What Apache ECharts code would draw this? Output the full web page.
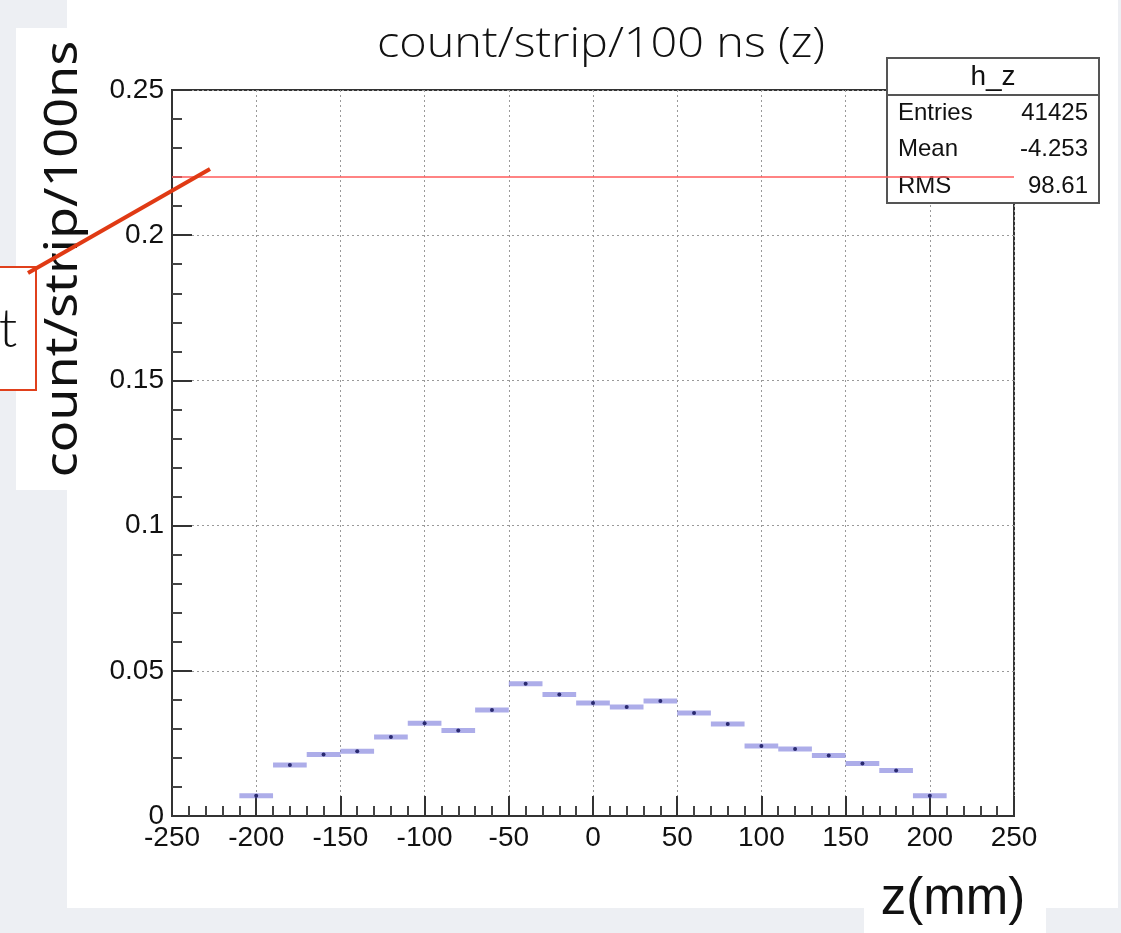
<!DOCTYPE html>
<html>
<head>
<meta charset="utf-8">
<script src="https://cdn.jsdelivr.net/npm/echarts@6/dist/echarts.min.js"></script>
<style>
html,body{margin:0;padding:0;background:#edeff3;}
#c{width:1121px;height:933px;}
</style>
</head>
<body>
<div id="c"></div>
<script>
// ---- data ----
const binCenters = [-200,-180,-160,-140,-120,-100,-80,-60,-40,-20,0,20,40,60,80,100,120,140,160,180,200];
const binValues  = [0.0070,0.0176,0.0212,0.0223,0.0272,0.0319,0.0294,0.0365,0.0455,0.0418,0.0389,0.0375,0.0396,0.0355,0.0317,0.0241,0.0231,0.0208,0.0181,0.0157,0.0070];
const binWidth = 20;
const refLineValue = 0.22;
const xRange = [-250, 250];
const yRange = [0, 0.25];
const titleText = 'count/strip/100 ns (z)';
const yTitle = 'count/strip/100ns';
const xTitle = 'z(mm)';
const statsName = 'h_z';
const statsLabels = ['Entries','Mean','RMS'];
const statsValues = ['41425','-4.253','98.61'];

const seriesData = binCenters.map((c,i)=>[c, binValues[i]]);

const chart = echarts.init(document.getElementById('c'), null, {renderer:'canvas'});
const labelFont = {fontFamily:'"Liberation Sans", Arial, sans-serif', fontSize:28, color:'#111'};

chart.setOption({
  backgroundColor:'#edeff3',
  animation:false,
  graphic:[
    {type:'rect', z:-100, shape:{x:67,y:0,width:1051,height:908}, style:{fill:'#ffffff'}},
    {type:'rect', z:-100, shape:{x:16,y:28,width:60,height:462}, style:{fill:'#ffffff'}},
    {type:'rect', z:-100, shape:{x:864,y:868,width:182,height:65}, style:{fill:'#ffffff'}},
    // stats box
    {type:'rect', z:1, shape:{x:887,y:58,width:212,height:145}, style:{fill:'#ffffff', stroke:'#555', lineWidth:2}},
    {type:'line', z:1, shape:{x1:887,y1:95,x2:1099,y2:95}, style:{stroke:'#555', lineWidth:2}},
    {type:'text', z:1, style:{text:statsName, x:993, y:77, font:'28px "Liberation Sans", Arial', fill:'#111', textAlign:'center', textVerticalAlign:'middle'}},
    ...statsLabels.map((l,i)=>({type:'text', z:1, style:{text:l, x:898, y:113+i*36.5, font:'24px "Liberation Sans", Arial', fill:'#111', textVerticalAlign:'middle', textAlign:'left'}})),
    ...statsValues.map((v,i)=>({type:'text', z:1, style:{text:v, x:1088, y:113+i*36.5, font:'24px "Liberation Sans", Arial', fill:'#111', textVerticalAlign:'middle', textAlign:'right'}})),
    // title
    {type:'text', z:5, x:601, y:45, scaleX:1.09, style:{text:titleText, x:0, y:0, font:'300 43px "Open Sans", Lato, sans-serif', fill:'#111', textAlign:'center', textVerticalAlign:'middle'}},
    // y title
    {type:'text', z:5, rotation:Math.PI/2, x:64, y:259, scaleX:1.16, style:{text:yTitle, x:0, y:0, font:'45px "Noto Sans", "Open Sans", sans-serif', fill:'#111', textAlign:'center', textVerticalAlign:'middle'}},
    // x title
    {type:'text', z:5, style:{text:xTitle, x:953, y:900, font:'51px "Liberation Sans", Arial, sans-serif', fill:'#111', textAlign:'center', textVerticalAlign:'middle'}},
    // annotation box with t
    {type:'rect', z:6, shape:{x:-4,y:267,width:40,height:123}, style:{fill:'#ffffff', stroke:'#e0401c', lineWidth:2}},
    {type:'text', z:7, style:{text:'t', x:8, y:330, font:'300 54px Lato, "Open Sans", sans-serif', fill:'#111', textAlign:'center', textVerticalAlign:'middle'}},
    {type:'line', z:8, shape:{x1:28,y1:273,x2:210,y2:169}, style:{stroke:'#e03a14', lineWidth:4}}
  ],
  grid:{left:172, right:107, top:90, bottom:117, show:true, borderColor:'#333', borderWidth:2, backgroundColor:'transparent'},
  xAxis:{
    type:'value', min:xRange[0], max:xRange[1], interval:50,
    axisLine:{show:true, onZero:false, lineStyle:{color:'#333', width:2}},
    axisTick:{show:true, inside:true, length:20, lineStyle:{color:'#333', width:2}},
    minorTick:{show:true, splitNumber:5, length:10, lineStyle:{color:'#444', width:2}},
    splitLine:{show:true, lineStyle:{color:'#999', type:[2,3], width:1}},
    axisLabel:Object.assign({margin:8}, labelFont)
  },
  yAxis:{
    type:'value', min:yRange[0], max:yRange[1], interval:0.05,
    axisLine:{show:true, onZero:false, lineStyle:{color:'#333', width:2}},
    axisTick:{show:true, inside:true, length:20, lineStyle:{color:'#333', width:2}},
    minorTick:{show:true, splitNumber:5, length:10, lineStyle:{color:'#444', width:2}},
    splitLine:{show:true, lineStyle:{color:'#999', type:[2,3], width:1}},
    axisLabel:Object.assign({margin:8}, labelFont)
  },
  series:[
    {
      type:'custom', z:3,
      data:seriesData,
      renderItem:function(params, api){
        const x = api.value(0), y = api.value(1);
        const p0 = api.coord([x - binWidth/2, y]);
        const p1 = api.coord([x + binWidth/2, y]);
        const c = api.coord([x, y]);
        return {type:'group', children:[
          {type:'rect', shape:{x:p0[0], y:p0[1]-2.5, width:p1[0]-p0[0], height:5}, style:{fill:'rgba(105,105,215,0.55)'}},
          {type:'circle', shape:{cx:c[0], cy:c[1], r:2}, style:{fill:'#2a2a70'}}
        ]};
      }
    },
    {
      type:'line', z:4, symbol:'none',
      data:[[xRange[0], refLineValue],[xRange[1], refLineValue]],
      lineStyle:{color:'#ff5a5a', width:1.5}
    }
  ]
});
</script>
</body>
</html>
